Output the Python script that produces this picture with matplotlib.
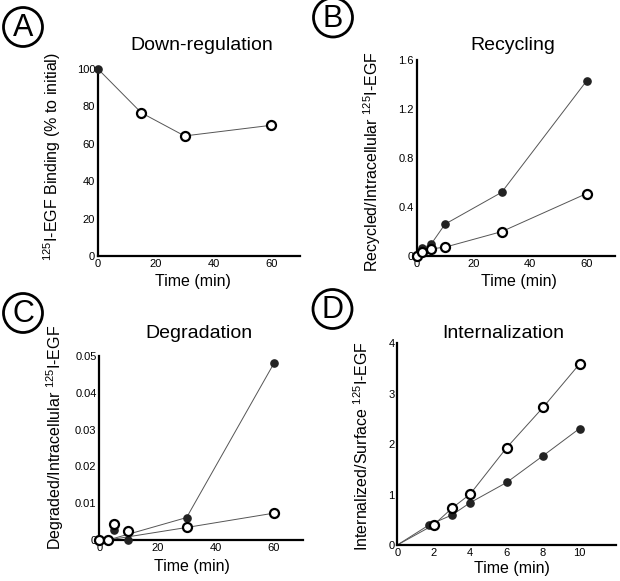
import matplotlib
matplotlib.use("Agg")
import matplotlib.pyplot as plt
from matplotlib.patches import Circle
from matplotlib.ticker import FuncFormatter

plt.rcParams['font.family'] = ['Liberation Sans', 'DejaVu Sans']
plt.rcParams['mathtext.fontset'] = 'custom'
plt.rcParams['mathtext.rm'] = 'Liberation Sans'
plt.rcParams['mathtext.it'] = 'Liberation Sans'
plt.rcParams['mathtext.default'] = 'regular'

# Panel A: Down-regulation
a_x = [0, 15, 30, 60]
a_y = [100, 76.6, 64.2, 69.9]

# Panel B: Recycling
b_x = [0, 2, 5, 10, 30, 60]
b_filled = [0, 0.067, 0.094, 0.26, 0.52, 1.43]
b_open = [0, 0.036, 0.058, 0.072, 0.199, 0.51]

# Panel C: Degradation
c_filled_x = [0, 5, 10, 30, 60]
c_filled_y = [0, 0.0027, 0.0001, 0.0061, 0.048]
c_open_x = [0, 3, 5, 10, 30, 60]
c_open_y = [0, 0, 0.0043, 0.0025, 0.0034, 0.0073]
c_line_x = [3, 30, 60]
c_line_filled = [0, 0.0061, 0.048]
c_line_open = [0, 0.0034, 0.0073]

# Panel D: Internalization
d_filled_x = [0, 1.75, 3, 4, 6, 8, 10]
d_filled_y = [0, 0.40, 0.595, 0.84, 1.24, 1.77, 2.31]
d_open_x = [0, 2, 3, 4, 6, 8, 10]
d_open_y = [0, 0.40, 0.73, 1.01, 1.93, 2.73, 3.59]

W, H = 620, 581
fig = plt.figure(figsize=(6.2, 5.81), dpi=100)

def fx(px):
    return px / W

def fy(py):
    return 1 - py / H

def make_ax(l, r, b, t):
    ax = fig.add_axes([fx(l), fy(b), fx(r) - fx(l), fy(t) - fy(b)])
    for s in ['top', 'right']:
        ax.spines[s].set_visible(False)
    for s in ['left', 'bottom']:
        ax.spines[s].set_linewidth(1.6)
    ax.tick_params(length=0, labelsize=8, pad=2)
    ax.patch.set_alpha(0)
    return ax

fmt = lambda v, p: '0' if abs(v) < 1e-12 else ('%g' % v)

line_kw = dict(color='#555555', lw=0.7, zorder=2)
open_kw = dict(marker='o', ls='none', ms=6.5, mfc='white', mec='black', mew=1.6, zorder=4, clip_on=False)
fill_kw = dict(marker='o', ls='none', ms=5.2, mfc='#222222', mec='#222222', zorder=3, clip_on=False)

# A
axA = make_ax(98, 300, 256, 69)
axA.plot(a_x, a_y, **line_kw)
axA.plot(a_x[:1], a_y[:1], **fill_kw)
axA.plot(a_x[1:], a_y[1:], **open_kw)
axA.set_xlim(0, 70)
axA.set_ylim(0, 100)
axA.set_xticks([0, 20, 40, 60])
axA.set_yticks([0, 20, 40, 60, 80, 100])

# B
axB = make_ax(416.7, 615, 256, 60)
axB.plot(b_x, b_filled, **line_kw)
axB.plot(b_x, b_open, **line_kw)
axB.plot(b_x, b_filled, **fill_kw)
axB.plot(b_x, b_open, **open_kw)
axB.set_xlim(0, 70)
axB.set_ylim(0, 1.6)
axB.set_xticks([0, 20, 40, 60])
axB.set_yticks([0, 0.4, 0.8, 1.2, 1.6])
axB.yaxis.set_major_formatter(FuncFormatter(fmt))

# C
axC = make_ax(99.3, 303, 540, 356)
axC.plot(c_line_x, c_line_filled, **line_kw)
axC.plot(c_line_x, c_line_open, **line_kw)
axC.plot(c_filled_x, c_filled_y, **fill_kw)
axC.plot(c_open_x, c_open_y, **open_kw)
axC.set_xlim(0, 70)
axC.set_ylim(0, 0.05)
axC.set_xticks([0, 20, 40, 60])
axC.set_yticks([0, 0.01, 0.02, 0.03, 0.04, 0.05])
axC.yaxis.set_major_formatter(FuncFormatter(fmt))

# D
axD = make_ax(397.3, 616, 545, 343.3)
axD.plot(d_filled_x, d_filled_y, **line_kw)
axD.plot(d_open_x, d_open_y, **line_kw)
axD.plot(d_filled_x[1:], d_filled_y[1:], **fill_kw)
axD.plot(d_open_x[1:], d_open_y[1:], **open_kw)
axD.set_xlim(0, 12)
axD.set_ylim(0, 4)
axD.set_xticks([0, 2, 4, 6, 8, 10])
axD.set_yticks([0, 1, 2, 3, 4])

# titles
for (x, y, t) in [(201.7, 45.7, 'Down-regulation'), (513, 45, 'Recycling'),
                  (199, 334, 'Degradation'), (503, 334, 'Internalization')]:
    fig.text(fx(x), fy(y), t, ha='center', va='center', fontsize=14)

# x labels
for (x, y) in [(193, 281.7), (519, 282), (192, 566.7), (511.7, 568)]:
    fig.text(fx(x), fy(y), 'Time (min)', ha='center', va='center', fontsize=11.5)

# y labels
for (x, y, t) in [(51.7, 157, '$^{125}$I-EGF Binding (% to initial)'),
                  (372, 161.7, 'Recycled/Intracellular $^{125}$I-EGF'),
                  (55, 437, 'Degraded/Intracellular $^{125}$I-EGF'),
                  (361.7, 445.7, 'Internalized/Surface $^{125}$I-EGF')]:
    fig.text(fx(x), fy(y), t, ha='center', va='center', rotation=90, fontsize=11.5)

# circled letters
for (x, y, t) in [(23, 27, 'A'), (333, 17.5, 'B'), (23, 313, 'C'), (332.5, 309, 'D')]:
    c = Circle((fx(x), fy(y)), 19.5 / W, transform=fig.transFigure, fill=False, lw=2.0, ec='black')
    c.width = 39 / W
    c.height = 39 / H
    fig.patches.append(c)
    fig.text(fx(x), fy(y) - 0.002, t, ha='center', va='center', fontsize=22)

fig.savefig('out.png', dpi=100)
